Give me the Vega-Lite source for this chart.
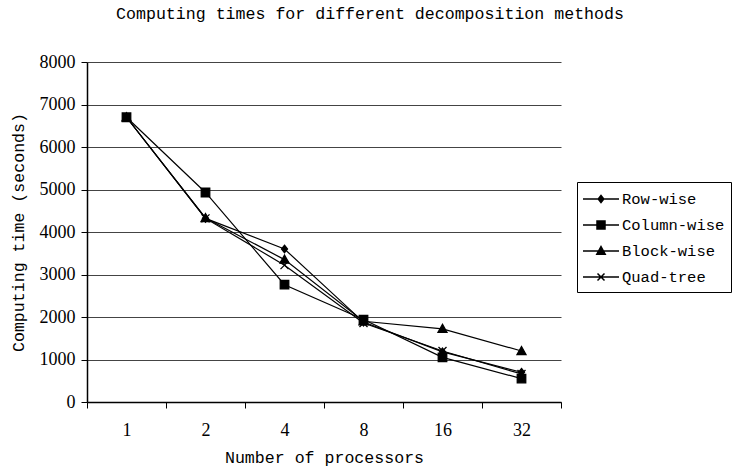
{
  "$schema": "https://vega.github.io/schema/vega-lite/v6.json",
  "width": 474,
  "height": 340,
  "autosize": {"type": "none"},
  "padding": {"left": 87, "top": 62, "right": 172, "bottom": 65},
  "background": "white",
  "title": {
    "text": "Computing times for different decomposition methods",
    "font": "Liberation Mono",
    "fontSize": 16.6,
    "fontWeight": "normal",
    "color": "black",
    "anchor": "middle",
    "frame": "group",
    "dx": 46,
    "offset": 30
  },
  "data": {
    "values": [
      {"p": "1", "method": "Row-wise", "t": 6700},
      {"p": "2", "method": "Row-wise", "t": 4320},
      {"p": "4", "method": "Row-wise", "t": 3600},
      {"p": "8", "method": "Row-wise", "t": 1880},
      {"p": "16", "method": "Row-wise", "t": 1180},
      {"p": "32", "method": "Row-wise", "t": 700},
      {"p": "1", "method": "Column-wise", "t": 6700},
      {"p": "2", "method": "Column-wise", "t": 4930},
      {"p": "4", "method": "Column-wise", "t": 2760},
      {"p": "8", "method": "Column-wise", "t": 1940},
      {"p": "16", "method": "Column-wise", "t": 1050},
      {"p": "32", "method": "Column-wise", "t": 550},
      {"p": "1", "method": "Block-wise", "t": 6700},
      {"p": "2", "method": "Block-wise", "t": 4330},
      {"p": "4", "method": "Block-wise", "t": 3350},
      {"p": "8", "method": "Block-wise", "t": 1900},
      {"p": "16", "method": "Block-wise", "t": 1720},
      {"p": "32", "method": "Block-wise", "t": 1200},
      {"p": "1", "method": "Quad-tree", "t": 6700},
      {"p": "2", "method": "Quad-tree", "t": 4320},
      {"p": "4", "method": "Quad-tree", "t": 3220},
      {"p": "8", "method": "Quad-tree", "t": 1860},
      {"p": "16", "method": "Quad-tree", "t": 1200},
      {"p": "32", "method": "Quad-tree", "t": 660}
    ]
  },
  "encoding": {
    "x": {
      "field": "p",
      "type": "ordinal",
      "sort": ["1", "2", "4", "8", "16", "32"],
      "bandPosition": 0.5,
      "scale": {"type": "band", "paddingInner": 0, "paddingOuter": 0},
      "axis": {
        "title": "Number of processors",
        "labelAngle": 0,
        "tickBand": "extent",
        "grid": false,
        "domainColor": "black",
        "domainWidth": 1.5,
        "tickColor": "black",
        "tickSize": 6,
        "labelFont": "Liberation Serif",
        "labelFontSize": 18,
        "labelColor": "black",
        "labelPadding": 13,
        "titleFont": "Liberation Mono",
        "titleFontSize": 16.6,
        "titleFontWeight": "normal",
        "titleColor": "black",
        "titlePadding": 10
      }
    },
    "y": {
      "field": "t",
      "type": "quantitative",
      "scale": {"domain": [0, 8000], "nice": false},
      "axis": {
        "title": "Computing time (seconds)",
        "values": [0, 1000, 2000, 3000, 4000, 5000, 6000, 7000, 8000],
        "format": "d",
        "grid": true,
        "gridColor": "#444444",
        "gridWidth": 1,
        "domainColor": "black",
        "domainWidth": 1.5,
        "tickColor": "black",
        "tickSize": 6,
        "labelFont": "Liberation Serif",
        "labelFontSize": 18,
        "labelColor": "black",
        "labelPadding": 6,
        "titleFont": "Liberation Mono",
        "titleFontSize": 16.6,
        "titleFontWeight": "normal",
        "titleColor": "black",
        "titlePadding": 13
      }
    }
  },
  "layer": [
    {
      "mark": {"type": "line", "color": "black", "strokeWidth": 1.2},
      "encoding": {"detail": {"field": "method"}}
    },
    {
      "mark": {"type": "point", "filled": true, "fill": "black", "stroke": "black", "strokeWidth": 1.3, "opacity": 1, "size": 100},
      "encoding": {
        "shape": {
          "field": "method",
          "legend": null,
          "scale": {
            "domain": ["Row-wise", "Column-wise", "Block-wise", "Quad-tree"],
            "range": [
              "M0,-0.75L0.6,0L0,0.75L-0.6,0Z",
              "M-0.85,-0.85H0.85V0.85H-0.85Z",
              "M0,-0.9L0.9,0.7L-0.9,0.7Z",
              "M-0.8,-0.8L0.8,0.8M-0.8,0.8L0.8,-0.8"
            ]
          }
        }
      }
    },
    {
      "mark": {"type": "point", "filled": true, "fill": "black", "stroke": "black", "opacity": 0, "size": 400},
      "encoding": {
        "shape": {
          "field": "method",
          "scale": {
            "domain": ["Row-wise", "Column-wise", "Block-wise", "Quad-tree"],
            "range": [
              "M-1.1,0H2.5M0.7,-0.35L0.98,0L0.7,0.35L0.42,0Z",
              "M-1.1,0H2.5M0.3,-0.4H1.1V0.4H0.3Z",
              "M-1.1,0H2.5M0.7,-0.45L1.12,0.32L0.28,0.32Z",
              "M-1.1,0H2.5M0.35,-0.35L1.05,0.35M0.35,0.35L1.05,-0.35"
            ]
          },
          "legend": {
            "title": null,
            "orient": "none",
            "legendX": 490,
            "legendY": 120,
            "strokeColor": "black",
            "padding": 6,
            "symbolSize": 400,
            "labelFont": "Liberation Mono",
            "labelFontSize": 15.5,
            "labelColor": "black",
            "labelOffset": 17,
            "rowPadding": 6,
            "labelLimit": 300,
            "encode": {
              "symbols": {
                "update": {
                  "opacity": {"value": 1},
                  "fill": {"value": "black"},
                  "fillOpacity": {"value": 1},
                  "stroke": {"value": "black"},
                  "strokeOpacity": {"value": 1},
                  "strokeWidth": {"value": 1.2}
                }
              }
            }
          }
        }
      }
    }
  ],
  "resolve": {"scale": {"shape": "independent"}, "legend": {"shape": "independent"}},
  "config": {
    "view": {"stroke": null},
    "axis": {"labelFontWeight": "normal"}
  }
}
